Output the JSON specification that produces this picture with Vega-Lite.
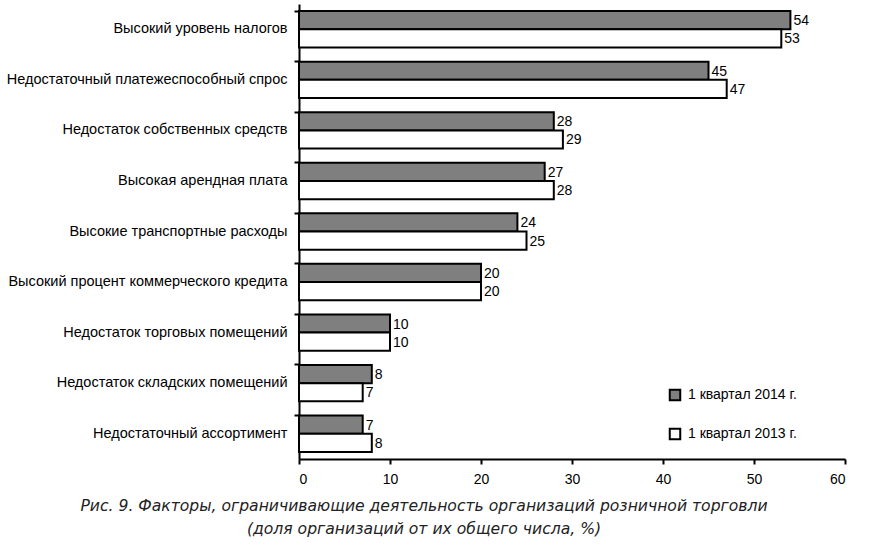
{
  "$schema": "https://vega.github.io/schema/vega-lite/v6.json",
  "autosize": "none",
  "width": 546,
  "height": 455,
  "padding": {"left": 299, "top": 4, "right": 41, "bottom": 90},
  "background": "white",
  "data": {"values": [
    {"factor": "Высокий уровень налогов", "series": "1 квартал 2014 г.", "value": 54},
    {"factor": "Высокий уровень налогов", "series": "1 квартал 2013 г.", "value": 53},
    {"factor": "Недостаточный платежеспособный спрос", "series": "1 квартал 2014 г.", "value": 45},
    {"factor": "Недостаточный платежеспособный спрос", "series": "1 квартал 2013 г.", "value": 47},
    {"factor": "Недостаток собственных средств", "series": "1 квартал 2014 г.", "value": 28},
    {"factor": "Недостаток собственных средств", "series": "1 квартал 2013 г.", "value": 29},
    {"factor": "Высокая арендная плата", "series": "1 квартал 2014 г.", "value": 27},
    {"factor": "Высокая арендная плата", "series": "1 квартал 2013 г.", "value": 28},
    {"factor": "Высокие транспортные расходы", "series": "1 квартал 2014 г.", "value": 24},
    {"factor": "Высокие транспортные расходы", "series": "1 квартал 2013 г.", "value": 25},
    {"factor": "Высокий процент коммерческого кредита", "series": "1 квартал 2014 г.", "value": 20},
    {"factor": "Высокий процент коммерческого кредита", "series": "1 квартал 2013 г.", "value": 20},
    {"factor": "Недостаток торговых помещений", "series": "1 квартал 2014 г.", "value": 10},
    {"factor": "Недостаток торговых помещений", "series": "1 квартал 2013 г.", "value": 10},
    {"factor": "Недостаток складских помещений", "series": "1 квартал 2014 г.", "value": 8},
    {"factor": "Недостаток складских помещений", "series": "1 квартал 2013 г.", "value": 7},
    {"factor": "Недостаточный ассортимент", "series": "1 квартал 2014 г.", "value": 7},
    {"factor": "Недостаточный ассортимент", "series": "1 квартал 2013 г.", "value": 8}
  ]},
  "title": {
    "text": ["Рис. 9. Факторы, ограничивающие деятельность организаций розничной торговли", "(доля организаций от их общего числа, %)"],
    "orient": "bottom",
    "anchor": "middle",
    "dx": -148,
    "offset": 13,
    "font": "DejaVu Sans",
    "fontStyle": "italic",
    "fontWeight": "normal",
    "fontSize": 15.6,
    "lineHeight": 23,
    "color": "#222"
  },
  "config": {
    "view": {"stroke": null},
    "font": "Liberation Sans"
  },
  "encoding": {
    "y": {
      "field": "factor", "type": "nominal", "sort": null,
      "scale": {"paddingInner": 0.28, "paddingOuter": 0.14},
      "axis": {
        "title": null, "bandPosition": 0, "domainColor": "black", "domainWidth": 2,
        "tickColor": "black", "tickWidth": 2, "tickSize": 5,
        "labelFont": "Liberation Sans", "labelFontSize": 14.5, "labelColor": "black", "labelPadding": 7, "labelLimit": 300
      }
    },
    "x": {
      "field": "value", "type": "quantitative",
      "scale": {"domain": [0, 60], "nice": false},
      "axis": {
        "title": null, "values": [0, 10, 20, 30, 40, 50, 60], "grid": false,
        "domainColor": "black", "domainWidth": 2, "tickColor": "black", "tickWidth": 2, "tickSize": 5,
        "labelFont": "Liberation Sans", "labelFontSize": 14, "labelColor": "black", "labelPadding": 8
      }
    },
    "yOffset": {"field": "series", "type": "nominal", "sort": ["1 квартал 2014 г.", "1 квартал 2013 г."]}
  },
  "layer": [
    {
      "mark": {"type": "bar", "stroke": "black", "strokeWidth": 2},
      "encoding": {
        "fill": {
          "field": "series", "type": "nominal",
          "scale": {"domain": ["1 квартал 2014 г.", "1 квартал 2013 г."], "range": ["#7f7f7f", "white"]},
          "legend": {
            "title": null, "orient": "none", "legendX": 369, "legendY": 384,
            "symbolType": "square", "symbolSize": 110, "symbolStrokeColor": "black", "symbolStrokeWidth": 2,
            "labelFont": "Liberation Sans", "labelFontSize": 14, "labelColor": "black", "rowPadding": 19, "labelOffset": 6
          }
        }
      }
    },
    {
      "mark": {"type": "text", "align": "left", "dx": 3, "dy": 1, "fontSize": 14, "font": "Liberation Sans", "color": "black"},
      "encoding": {"text": {"field": "value", "type": "quantitative"}}
    }
  ]
}
